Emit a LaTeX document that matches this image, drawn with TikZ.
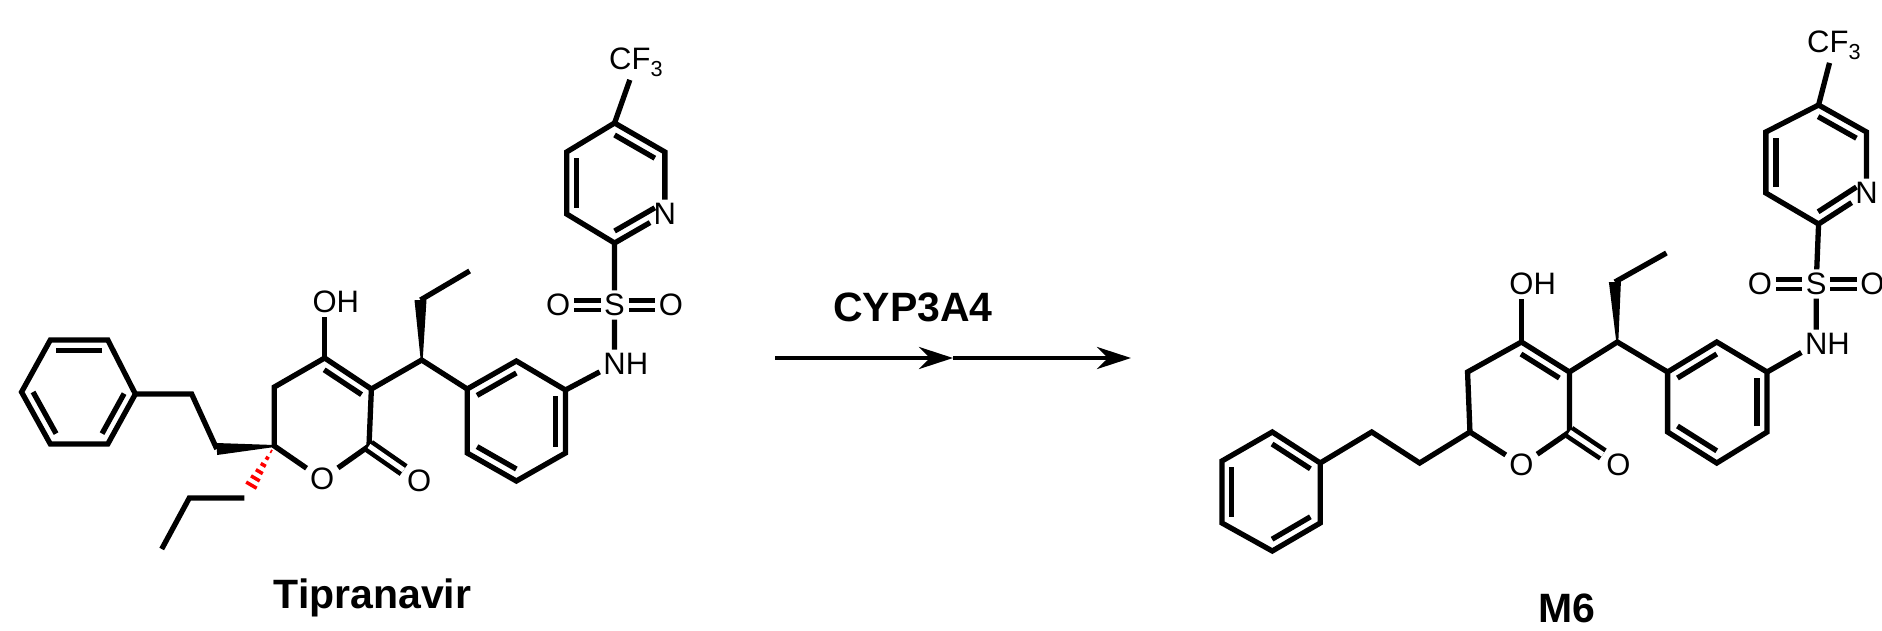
\documentclass[tikz,border=0pt]{standalone}
\usepackage{fontspec}
\setmainfont{Liberation Sans}
\usetikzlibrary{calc,arrows.meta}
\begin{document}
\begin{tikzpicture}[x=1pt,y=-1pt,line width=5.3pt,line cap=butt,line join=miter,
  atom/.style={inner sep=1pt,font=\fontsize{31}{31}\selectfont},
  lbl/.style={font=\bfseries\fontsize{41}{41}\selectfont}]
\useasboundingbox (0,0) rectangle (1882,630);
\newcommand{\dbin}[3]{\draw ($(#1)!0.2!(#3)$) -- ($(#2)!0.2!(#3)$);}
\tikzset{dbl/.style={double,double distance=5pt,line width=4.5pt}}
% ================= Tipranavir
\begin{scope}[x=1.198pt]
\node[atom] (aCF) at (531,62) {CF\textsubscript{3}};
\coordinate (a5) at (513,123); \coordinate (a6) at (555,152);
\node[atom] (aN) at (555,214) {N};
\coordinate (a2) at (513,243); \coordinate (a3) at (473,214); \coordinate (a4) at (473,152);
\coordinate (apc) at (513,183);
\node[atom] (aS) at (513,305) {S};
\node[atom] (aOL) at (466,305) {O};
\node[atom] (aOR) at (560,305) {O};
\node[atom] (aNH) at (513,364) {N\rlap{H}};
\coordinate (ab1) at (472,390); \coordinate (ab2) at (431,361); \coordinate (ab3) at (390,389);
\coordinate (ab4) at (390,453); \coordinate (ab5) at (431,481); \coordinate (ab6) at (472,453);
\coordinate (abc) at (431,421);
\coordinate (aCH) at (352,360); \coordinate (aEt) at (351,300); \coordinate (aMe) at (392,271);
\coordinate (ap3) at (310,389); \coordinate (ap4) at (271,358);
\node[atom] (aOH) at (271,302) {O\rlap{H}};
\coordinate (ap5) at (229,387); \coordinate (ap6) at (229,446);
\node[atom] (aO1) at (269,479) {O};
\coordinate (ap2) at (308,446);
\node[atom] (aO2) at (350,481) {O};
\coordinate (apyc) at (269,417);
\coordinate (ac1) at (181,449); \coordinate (ac2) at (160,394);
\coordinate (aq1) at (113,394); \coordinate (aq2) at (90,340); \coordinate (aq3) at (42,340);
\coordinate (aq4) at (18,392); \coordinate (aq5) at (42,444); \coordinate (aq6) at (90,444);
\coordinate (aqc) at (66,392);
\coordinate (ah) at (207,491); \coordinate (ar1) at (204,498); \coordinate (ar2) at (158,498); \coordinate (ar3) at (135,549);
\draw (aCF) -- (a5);
\draw (a2) -- (a3) -- (a4) -- (a5) -- (a6) -- (aN);
\draw (aN) -- (a2);
\dbin{a5}{a6}{apc} \dbin{aN}{a2}{apc} \dbin{a3}{a4}{apc}
\draw (a2) -- (aS) -- (aNH) -- (ab1);
\draw[dbl] (aS) -- (aOL);
\draw[dbl] (aS) -- (aOR);
\draw (ab1) -- (ab2) -- (ab3) -- (ab4) -- (ab5) -- (ab6) -- cycle;
\dbin{ab2}{ab3}{abc} \dbin{ab4}{ab5}{abc} \dbin{ab6}{ab1}{abc}
\draw (ab3) -- (aCH) -- (ap3);
\fill ($(aCH)!1pt!90:(aEt)$) -- ($(aEt)!6pt!-90:(aCH)$) -- ($(aEt)!6pt!90:(aCH)$) -- ($(aCH)!1pt!-90:(aEt)$) -- cycle;
\draw (aEt) -- (aMe);
\draw (ap3) -- (ap4) -- (ap5) -- (ap6) -- (aO1) -- (ap2) -- (ap3);
\dbin{ap3}{ap4}{apyc}
\draw (ap4) -- (aOH);
\draw[dbl] (ap2) -- (aO2);
\fill ($(ap6)!1pt!90:(ac1)$) -- ($(ac1)!6pt!-90:(ap6)$) -- ($(ac1)!6pt!90:(ap6)$) -- ($(ap6)!1pt!-90:(ac1)$) -- cycle;
\draw (ac1) -- (ac2) -- (aq1);
\draw (aq1) -- (aq2) -- (aq3) -- (aq4) -- (aq5) -- (aq6) -- cycle;
\dbin{aq2}{aq3}{aqc} \dbin{aq4}{aq5}{aqc} \dbin{aq6}{aq1}{aqc}
\foreach \t in {0.12,0.27,0.42,0.57,0.72,0.87}
  \draw[red,line width=3.5pt] ($($(ap6)!\t!(ah)$)!{\t*7pt}!90:(ah)$) -- ($($(ap6)!\t!(ah)$)!{\t*7pt}!-90:(ah)$);
\draw (ar1) -- (ar2) -- (ar3);
\node[lbl] (aL) at (311,598) {Tipranavir};
\end{scope}
% ================= arrow
\coordinate (r0) at (775,358); \coordinate (rm) at (953,358); \coordinate (r1) at (1131,358);
\draw[line width=4.5pt,-{Stealth[length=34pt,width=22pt]}] (r0) -- (rm);
\draw[line width=4.5pt,-{Stealth[length=34pt,width=22pt]}] (rm) -- (r1);
\node[lbl] (rL) at (913,307) {CYP3A4};
% ================= M6
\begin{scope}[x=1.198pt,xshift=-233.6pt]
\node[atom] (bCF) at (1726,45) {CF\textsubscript{3}};
\coordinate (b5) at (1713,105); \coordinate (b6) at (1753,132);
\node[atom] (bN) at (1753,193) {N};
\coordinate (b2) at (1713,224); \coordinate (b3) at (1669,193); \coordinate (b4) at (1669,132);
\coordinate (bpc) at (1711,163);
\node[atom] (bS) at (1711,284) {S};
\node[atom] (bOL) at (1664,284) {O};
\node[atom] (bOR) at (1758,284) {O};
\node[atom] (bNH) at (1711,344) {N\rlap{H}};
\coordinate (bb1) at (1670,372); \coordinate (bb2) at (1628,342); \coordinate (bb3) at (1587,372);
\coordinate (bb4) at (1587,432); \coordinate (bb5) at (1628,463); \coordinate (bb6) at (1670,432);
\coordinate (bbc) at (1628,402);
\coordinate (bCH) at (1545,342); \coordinate (bEt) at (1543,282); \coordinate (bMe) at (1586,253);
\coordinate (bp3) at (1505,372); \coordinate (bp4) at (1465,342);
\node[atom] (bOH) at (1465,284) {O\rlap{H}};
\coordinate (bp5) at (1420,372); \coordinate (bp6) at (1422,432);
\node[atom] (bO1) at (1465,465) {O};
\coordinate (bp2) at (1505,432);
\node[atom] (bO2) at (1546,465) {O};
\coordinate (bpyc) at (1463,402);
\coordinate (bc1) at (1380,463); \coordinate (bc2) at (1340,432);
\coordinate (bq1) at (1297,463); \coordinate (bq2) at (1257,432); \coordinate (bq3) at (1215,461);
\coordinate (bq4) at (1215,523); \coordinate (bq5) at (1257,551); \coordinate (bq6) at (1297,523);
\coordinate (bqc) at (1256,492);
\draw (bCF) -- (b5);
\draw (b2) -- (b3) -- (b4) -- (b5) -- (b6) -- (bN);
\draw (bN) -- (b2);
\dbin{b5}{b6}{bpc} \dbin{bN}{b2}{bpc} \dbin{b3}{b4}{bpc}
\draw (b2) -- (bS) -- (bNH) -- (bb1);
\draw[dbl] (bS) -- (bOL);
\draw[dbl] (bS) -- (bOR);
\draw (bb1) -- (bb2) -- (bb3) -- (bb4) -- (bb5) -- (bb6) -- cycle;
\dbin{bb2}{bb3}{bbc} \dbin{bb4}{bb5}{bbc} \dbin{bb6}{bb1}{bbc}
\draw (bb3) -- (bCH) -- (bp3);
\fill ($(bCH)!1pt!90:(bEt)$) -- ($(bEt)!6pt!-90:(bCH)$) -- ($(bEt)!6pt!90:(bCH)$) -- ($(bCH)!1pt!-90:(bEt)$) -- cycle;
\draw (bEt) -- (bMe);
\draw (bp3) -- (bp4) -- (bp5) -- (bp6) -- (bO1) -- (bp2) -- (bp3);
\dbin{bp3}{bp4}{bpyc}
\draw (bp4) -- (bOH);
\draw[dbl] (bp2) -- (bO2);
\draw (bp6) -- (bc1) -- (bc2) -- (bq1);
\draw (bq1) -- (bq2) -- (bq3) -- (bq4) -- (bq5) -- (bq6) -- cycle;
\dbin{bq1}{bq2}{bqc} \dbin{bq3}{bq4}{bqc} \dbin{bq5}{bq6}{bqc}
\node[lbl] (bL) at (1503,608) {M6};
\end{scope}
\end{tikzpicture}
\end{document}
